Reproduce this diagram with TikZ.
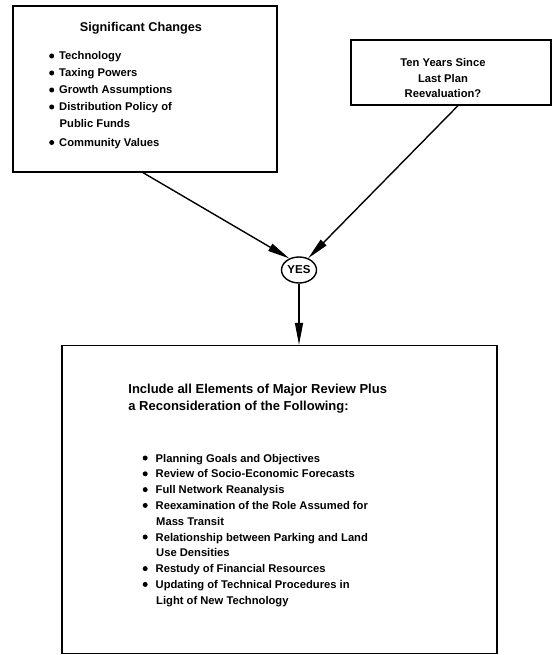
\documentclass[tikz,border=0pt]{standalone}
\usepackage{fontspec}
\setmainfont{Liberation Sans}
\usetikzlibrary{shapes.geometric,arrows.meta}
\newcommand\dotbul[2]{\makebox[#1][l]{\raisebox{#2}{\tikz\fill (0,0) circle (2.5pt);}}}
\begin{document}
\begin{tikzpicture}[x=1pt,y=-1pt,
  line width=1.4pt,
  boxnode/.style={draw,line width=1.3pt,inner sep=0pt},
  txt/.style={inner sep=0pt,font=\bfseries\fontsize{11.2}{13}\selectfont},
  ttl/.style={inner sep=0pt,font=\bfseries\fontsize{12.7}{15}\selectfont},
  hdg/.style={inner sep=0pt,font=\bfseries\fontsize{13}{15}\selectfont},
  arr/.style={-{Triangle[length=22pt,width=8pt]}},
  ]
\useasboundingbox (0,0) rectangle (554,655);
% boxes
\node[boxnode,minimum width=264pt,minimum height=166pt] (b1) at (145,89) {};
\node[boxnode,minimum width=200pt,minimum height=65pt] (b2) at (451,72.5) {};
\node[boxnode,minimum width=435pt,minimum height=308pt] (b3) at (279.5,499.5) {};
\node[draw,ellipse,line width=1.4pt,minimum width=35pt,minimum height=26pt,inner sep=0pt,
  font=\bfseries\fontsize{11.5}{13}\selectfont] (yes) at (299,270) {YES};
% box 1 text
\node[ttl,anchor=base] (t1) at (141,32) {Significant Changes};
\node[txt,anchor=base west] (i1) at (49,60) {\dotbul{10pt}{1.5pt}Technology};
\node[txt,anchor=base west] (i2) at (49,77) {\dotbul{10pt}{1.5pt}Taxing Powers};
\node[txt,anchor=base west] (i3) at (49,94) {\dotbul{10pt}{1.5pt}Growth Assumptions};
\node[txt,anchor=base west] (i4) at (49,111) {\dotbul{10pt}{1.5pt}Distribution Policy of};
\node[txt,anchor=base west] (i5) at (49,128) {\hspace*{10pt}Public Funds};
\node[txt,anchor=base west] (i6) at (49,146.5) {\dotbul{10pt}{1.5pt}Community Values};
% box 2 text
\node[txt,anchor=base] (q1) at (443,66.7) {Ten Years Since};
\node[txt,anchor=base] (q2) at (443,82.3) {Last Plan};
\node[txt,anchor=base] (q3) at (443,98) {Reevaluation?};
% box 3 text
\node[hdg,anchor=base west] (h1) at (127.7,393) {Include all Elements of Major Review Plus};
\node[hdg,anchor=base west] (h2) at (127.7,410) {a Reconsideration of the Following:};
\node[txt,anchor=base west] (r1) at (142.5,462) {\dotbul{13pt}{1.5pt}Planning Goals and Objectives};
\node[txt,anchor=base west] (r2) at (142.5,477.8) {\dotbul{13pt}{1.5pt}Review of Socio-Economic Forecasts};
\node[txt,anchor=base west] (r3) at (142.5,493.6) {\dotbul{13pt}{1.5pt}Full Network Reanalysis};
\node[txt,anchor=base west] (r4) at (142.5,509.4) {\dotbul{13pt}{1.5pt}Reexamination of the Role Assumed for};
\node[txt,anchor=base west] (r5) at (142.5,525.2) {\hspace*{13pt}Mass Transit};
\node[txt,anchor=base west] (r6) at (142.5,541) {\dotbul{13pt}{1.5pt}Relationship between Parking and Land};
\node[txt,anchor=base west] (r7) at (142.5,556.8) {\hspace*{13pt}Use Densities};
\node[txt,anchor=base west] (r8) at (142.5,572.6) {\dotbul{13pt}{1.5pt}Restudy of Financial Resources};
\node[txt,anchor=base west] (r9) at (142.5,588.4) {\dotbul{13pt}{1.5pt}Updating of Technical Procedures in};
\node[txt,anchor=base west] (r10) at (142.5,604.2) {\hspace*{13pt}Light of New Technology};
% connectors
\draw[arr] ([xshift=-2pt]b1.south) -- (yes.130);
\draw[arr] ([xshift=7pt]b2.south) -- (yes.52);
\draw[arr] (yes.south) -- (yes.south |- b3.north);
\end{tikzpicture}
\end{document}
